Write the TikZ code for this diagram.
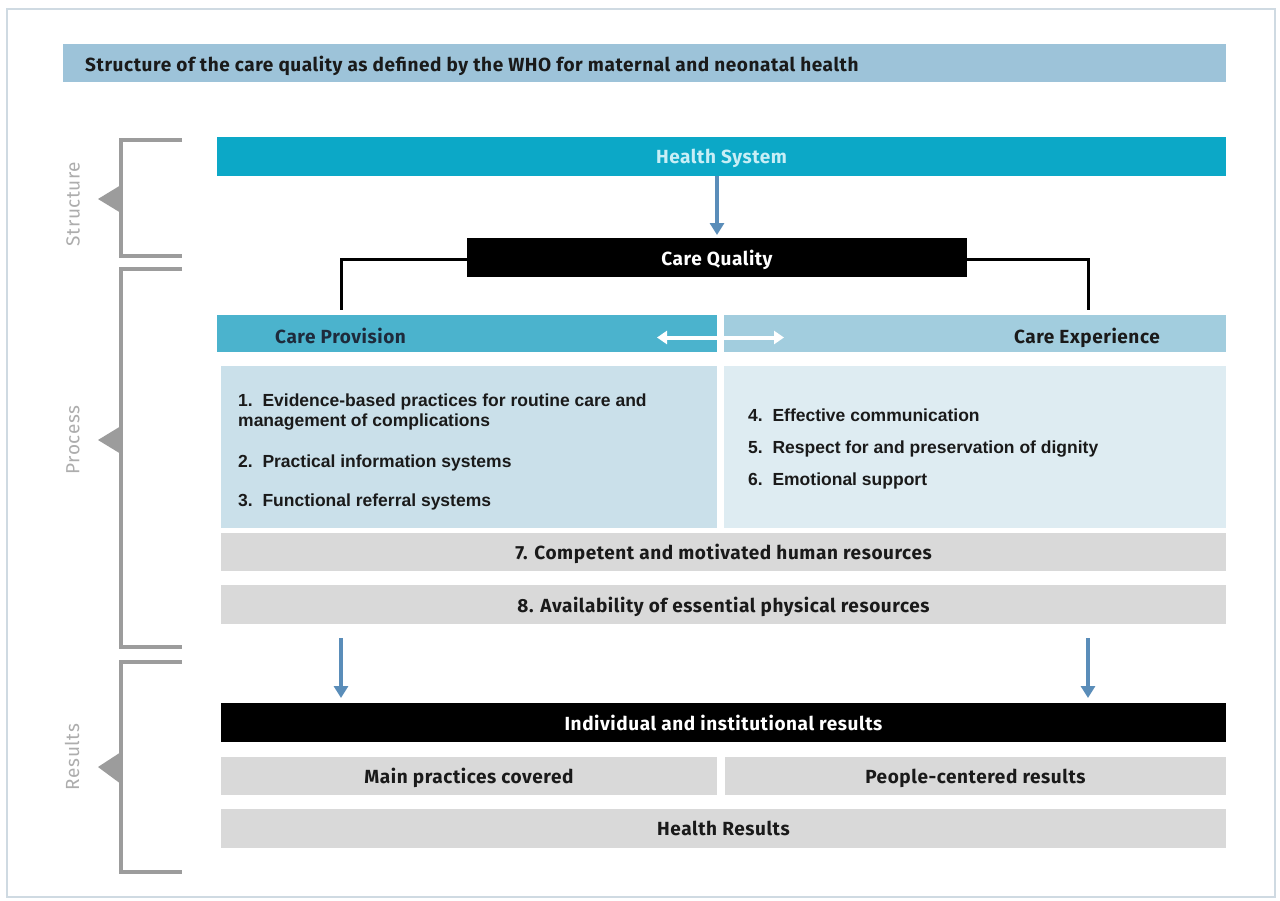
\documentclass[tikz,border=0pt]{standalone}
\usepackage{fontspec}
\setmainfont{Liberation Sans}
\newfontfamily\dinfont[LetterSpace=3]{Fira Sans}
\usetikzlibrary{arrows.meta}
\definecolor{framec}{HTML}{CFDAE2}
\definecolor{titlebg}{HTML}{9DC3D9}
\definecolor{hsbg}{HTML}{0CA8C7}
\definecolor{hstext}{HTML}{C8EEF6}
\definecolor{cpbg}{HTML}{4BB3CD}
\definecolor{cebg}{HTML}{A2CDDE}
\definecolor{lbox}{HTML}{CAE0EA}
\definecolor{rbox}{HTML}{DEECF2}
\definecolor{greybox}{HTML}{D9D9D9}
\definecolor{arrowc}{HTML}{5A8DB9}
\definecolor{bracketc}{HTML}{9C9C9C}
\definecolor{labelc}{HTML}{ADADAD}
\definecolor{navy}{HTML}{1E2B3C}
\definecolor{darktext}{HTML}{1A1A1A}
\begin{document}
\begin{tikzpicture}[x=1pt,y=-1pt,
  bar/.style={inner sep=0pt, outer sep=0pt, anchor=north west, draw=none},
  head/.style={font=\dinfont\bfseries\fontsize{19}{22}\selectfont, text depth=0pt},
  item/.style={inner sep=0pt, anchor=base west, text=darktext, font=\bfseries\fontsize{17.5}{21}\selectfont},
  bluearrow/.style={draw=arrowc, line width=4pt, -{Triangle[width=14pt,length=12pt]}},
  whitearrow/.style={draw=white, line width=4pt, {Triangle[width=13pt,length=10pt]}-{Triangle[width=13pt,length=10pt]}},
  conn/.style={draw=black, line width=3pt},
  brk/.style={draw=bracketc, line width=3.5pt},
  brktri/.style={fill=bracketc},
  sidelabel/.style={text=labelc, rotate=90, font=\dinfont\fontsize{19}{22}\selectfont}
]
\useasboundingbox (0,0) rectangle (1280,900);
\fill[white] (0,0) rectangle (1280,900);
\draw[framec, line width=1.5pt] (7,9) rectangle (1275,897);

% title
\node[bar, fill=titlebg, minimum width=1163pt, minimum height=38pt] (title) at (63,44) {};
\node[head, text=darktext, anchor=west, inner sep=0pt] (titletext) at (85,64) {Structure of the care quality as defined by the WHO for maternal and neonatal health};

% structure
\node[bar, fill=hsbg, minimum width=1009pt, minimum height=39pt, head, text=hstext] (hs) at (217,137) {Health System};
\node[bar, fill=black, minimum width=500pt, minimum height=39pt, head, text=white] (cq) at (467,238) {Care Quality};

% process bars
\node[bar, fill=cpbg, minimum width=500pt, minimum height=37pt] (cprov) at (217,315) {};
\node[bar, fill=cebg, minimum width=502pt, minimum height=37pt] (cexp) at (724,315) {};
\node[head, text=navy, anchor=west, inner sep=0pt] (cprovtext) at (275,336) {Care Provision};
\node[head, text=darktext, anchor=east, inner sep=0pt] (cexptext) at (1160,336) {Care Experience};

\node[bar, fill=lbox, minimum width=496pt, minimum height=162pt] (lb) at (221,366) {};
\node[bar, fill=rbox, minimum width=502pt, minimum height=162pt] (rb) at (724,366) {};

\node[item] (i1) at (238,406) {1.\ \ Evidence-based practices for routine care and};
\node[item] (i1b) at (238,426) {management of complications};
\node[item] (i2) at (238,467) {2.\ \ Practical information systems};
\node[item] (i3) at (238,506) {3.\ \ Functional referral systems};
\node[item] (i4) at (748,421) {4.\ \ Effective communication};
\node[item] (i5) at (748,453) {5.\ \ Respect for and preservation of dignity};
\node[item] (i6) at (748,485) {6.\ \ Emotional support};

\node[bar, fill=greybox, minimum width=1005pt, minimum height=38pt, head, text=darktext] (b7) at (221,533) {7. Competent and motivated human resources};
\node[bar, fill=greybox, minimum width=1005pt, minimum height=39pt, head, text=darktext] (b8) at (221,585) {8. Availability of essential physical resources};

% results
\node[bar, fill=black, minimum width=1005pt, minimum height=39pt, head, text=white] (ind) at (221,703) {Individual and institutional results};
\node[bar, fill=greybox, minimum width=496pt, minimum height=38pt, head, text=darktext] (mp) at (221,757) {Main practices covered};
\node[bar, fill=greybox, minimum width=501pt, minimum height=38pt, head, text=darktext] (pc) at (725,757) {People-centered results};
\node[bar, fill=greybox, minimum width=1005pt, minimum height=39pt, head, text=darktext] (hr) at (221,809) {Health Results};

% connectors
\coordinate (lc) at (341,0);
\coordinate (rc) at (1088,0);
\draw[bluearrow] (cq.north |- hs.south) -- ([yshift=3pt]cq.north);
\draw[conn] ([yshift=-2pt]cq.west) -| ([yshift=5pt]cprov.north -| lc);
\draw[conn] ([yshift=-2pt]cq.east) -| ([yshift=5pt]cexp.north -| rc);
\draw[whitearrow] ([xshift=-60pt,yshift=-4pt]cprov.east) -- ([xshift=60pt,yshift=-4pt]cexp.west);
\draw[bluearrow] ([yshift=-14pt]b8.south -| lc) -- ([yshift=5pt]ind.north -| lc);
\draw[bluearrow] ([yshift=-14pt]b8.south -| rc) -- ([yshift=5pt]ind.north -| rc);

% brackets
\draw[brk] (182,140) -- (121,140) -- (121,256) -- (182,256);
\fill[brktri] (121,185) -- (98,199) -- (121,213) -- cycle;
\node[sidelabel] (lstruct) at (73,204) {Structure};

\draw[brk] (182,269) -- (121,269) -- (121,647) -- (182,647);
\fill[brktri] (121,426) -- (98,440) -- (121,454) -- cycle;
\node[sidelabel] (lproc) at (73,440) {Process};

\draw[brk] (182,662) -- (121,662) -- (121,872) -- (182,872);
\fill[brktri] (121,752) -- (98,767) -- (121,784) -- cycle;
\node[sidelabel] (lres) at (72,757) {Results};
\end{tikzpicture}
\end{document}
